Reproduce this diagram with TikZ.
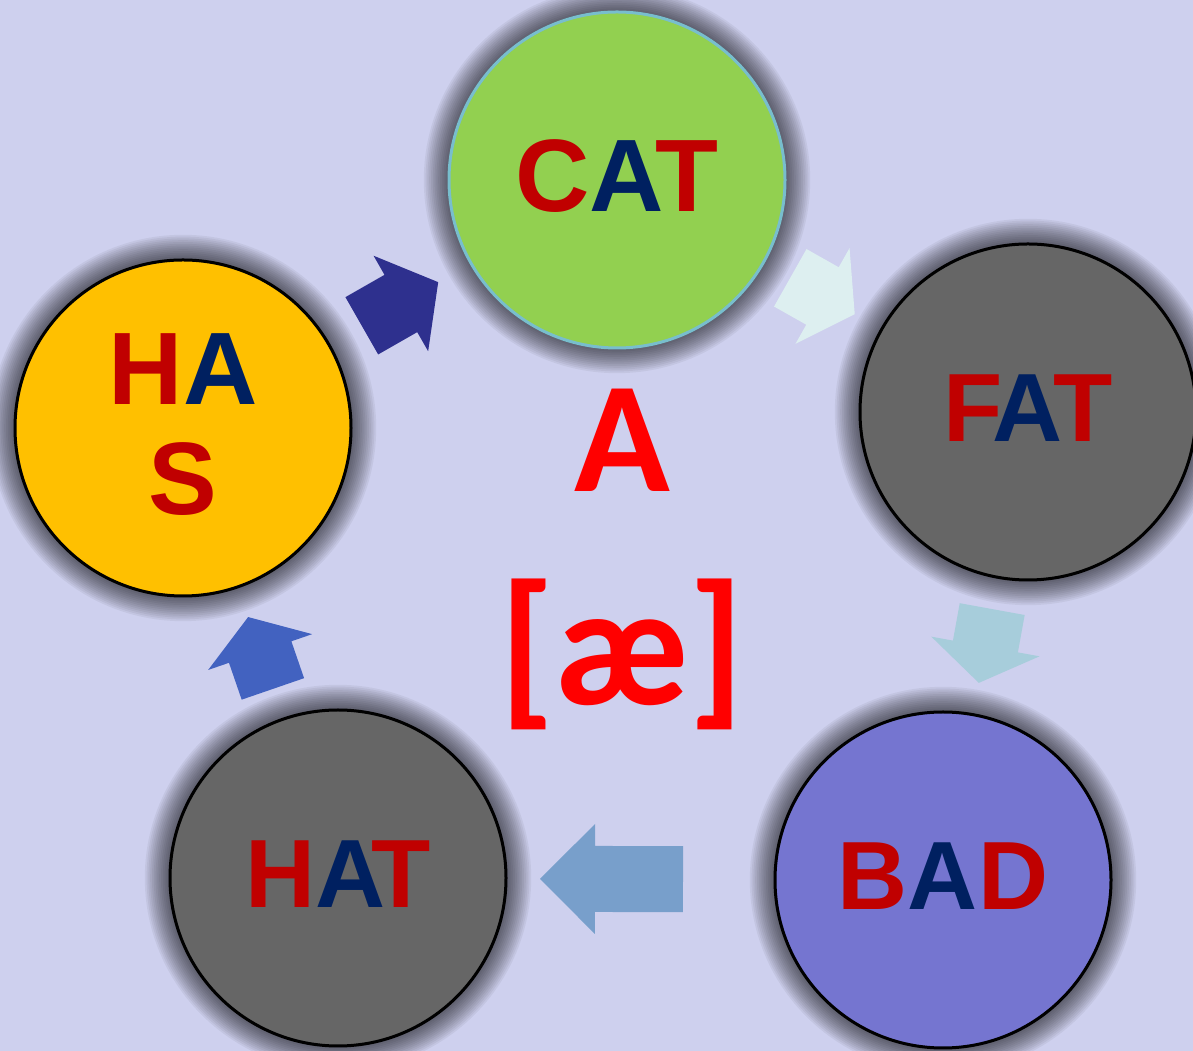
\documentclass[tikz,border=0pt]{standalone}
\usepackage{fontspec}
\usepackage{xcolor}
\usepackage{tikz}
\usetikzlibrary{calc}

\newfontfamily\wordfont{Liberation Sans}
\newfontfamily\soundfont{Carlito}

\definecolor{bgcol}{RGB}{206,208,238}
\definecolor{wordred}{RGB}{192,0,0}
\definecolor{wordblue}{RGB}{0,32,96}
\definecolor{catgreen}{RGB}{146,208,80}
\definecolor{catrim}{RGB}{120,190,205}
\definecolor{wordgray}{RGB}{102,102,102}
\definecolor{badblue}{RGB}{117,117,208}
\definecolor{hasyellow}{RGB}{255,192,0}
\definecolor{arrowone}{RGB}{46,48,142}
\definecolor{arrowtwo}{RGB}{221,239,240}
\definecolor{arrowthree}{RGB}{167,205,219}
\definecolor{arrowfour}{RGB}{120,159,203}
\definecolor{arrowfive}{RGB}{66,98,192}

\newcommand\vowel[1]{\textcolor{wordblue}{#1}}

% block arrow halfway between two nodes, pointing from #2 to #3
\newcommand\cyclearrow[6][0pt]{%
  \pgfmathanglebetweenpoints{\pgfpointanchor{#2}{center}}{\pgfpointanchor{#3}{center}}%
  \let\arrowangle\pgfmathresult
  \begin{scope}[shift={($(#2)!0.5!(#3)$)}, xshift=#1, rotate=\arrowangle]
    \fill[#6] (-#4/2,-33) -- (#4/2-#5,-33) -- (#4/2-#5,-55) -- (#4/2,0)
      -- (#4/2-#5,55) -- (#4/2-#5,33) -- (-#4/2,33) -- cycle;
  \end{scope}}

\begin{document}
\begin{tikzpicture}[x=1pt, y=1pt,
  word/.style={circle, draw=black, line width=3pt, minimum size=336pt,
    inner sep=0pt, text depth=8pt, align=center, text=wordred,
    font=\wordfont\bfseries\fontsize{103}{110}\selectfont},
  small word/.style={word, font=\wordfont\bfseries\fontsize{97}{104}\selectfont},
  sound/.style={anchor=base, inner sep=0pt, text=red,
    font=\soundfont\bfseries\fontsize{158}{158}\selectfont}]

  \fill[bgcol] (0,0) rectangle (1193,1051);
  \useasboundingbox (0,0) rectangle (1193,1051);

  % circle centres
  \coordinate (pcat) at (617,871);
  \coordinate (pfat) at (1028,639);
  \coordinate (pbad) at (943,171);
  \coordinate (phat) at (338,173);
  \coordinate (phas) at (183,623);

  % soft shadows
  \foreach \c in {pcat,pfat,pbad,phat,phas}
    \foreach \r in {1,...,14}
      \fill[black, opacity=0.05] (\c) circle ({168+1.8*\r});

  \node[word, fill=catgreen, draw=catrim] (cat) at (pcat) {C\vowel{A}\kern-8pt T};
  \node[small word, fill=wordgray] (fat) at (pfat) {F\kern-10pt\vowel{A}\kern-10pt T};
  \node[small word, fill=badblue] (bad) at (pbad) {B\vowel{A}D};
  \node[small word, fill=wordgray] (hat) at (phat) {H\vowel{A}\kern-14pt T};
  \node[word, fill=hasyellow] (has) at (phas) {H\vowel{A}\\S};

  \cyclearrow{has}{cat}{88}{43}{arrowone}
  \cyclearrow{cat}{fat}{74}{37}{arrowtwo}
  \cyclearrow{fat}{bad}{75}{37}{arrowthree}
  \cyclearrow[-29pt]{bad}{hat}{143}{55}{arrowfour}
  \cyclearrow{hat}{has}{76}{37}{arrowfive}

  \node[sound] (letter) at (622,559) {A};
  \node[sound, font=\soundfont\bfseries\fontsize{172}{172}\selectfont] (ipa) at (622,346) {[æ]};
\end{tikzpicture}
\end{document}
